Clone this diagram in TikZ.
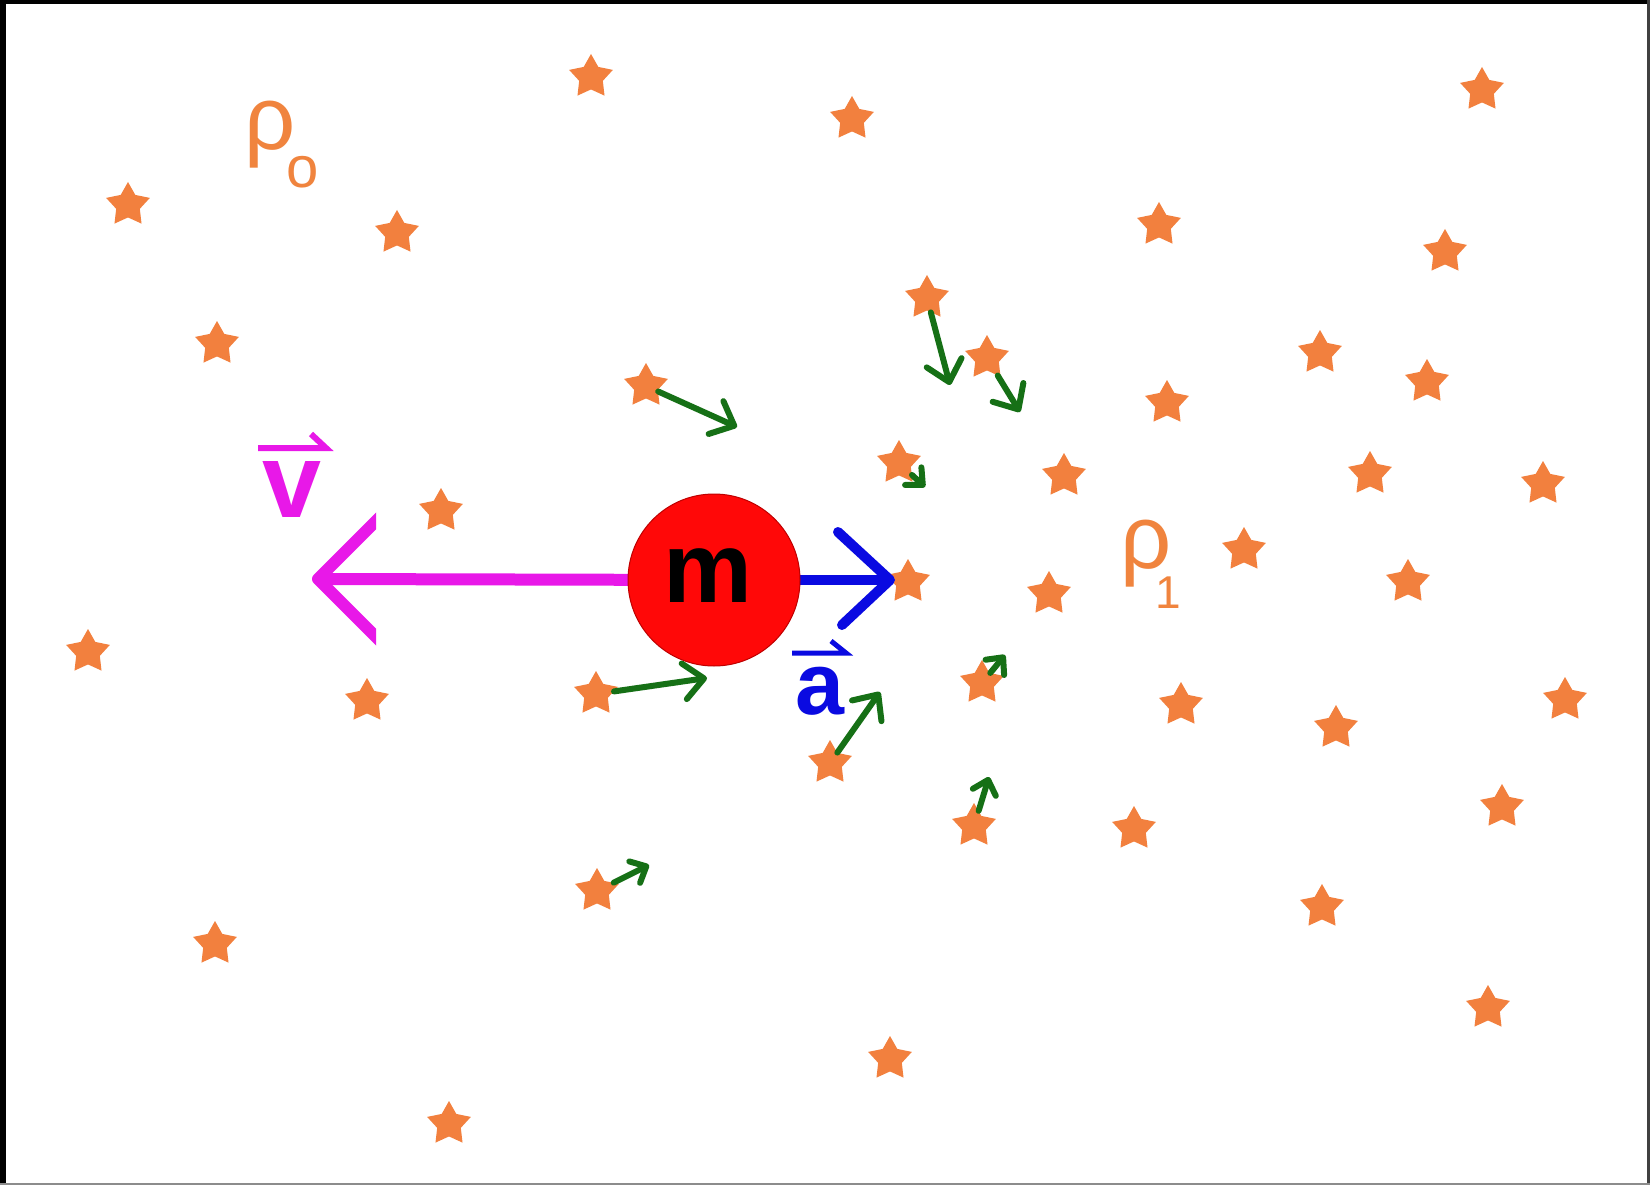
\documentclass[tikz,border=0pt]{standalone}
\usepackage{fontspec}
\setmainfont{Liberation Sans}
\usetikzlibrary{shapes.geometric,arrows.meta}
\definecolor{starorange}{RGB}{242,128,62}
\definecolor{rhoorange}{RGB}{240,132,62}
\definecolor{arrgreen}{RGB}{22,112,22}
\definecolor{vmag}{RGB}{232,24,232}
\definecolor{ablue}{RGB}{10,10,225}
\definecolor{mred}{RGB}{255,8,8}
\begin{document}
\begin{tikzpicture}[x=1pt,y=-1pt,
  starshape/.style={star, star points=5, star point ratio=1.85, minimum size=46pt, inner sep=0pt, fill=starorange, draw=none},
  garrow/.style={draw=arrgreen, line width=6pt, line cap=round, -{Straight Barb[length=20pt,width=36pt,round]}},
  garrowsmall/.style={draw=arrgreen, line width=6pt, line cap=round, -{Straight Barb[length=13pt,width=24pt,round]}},
  bigvec/.style={line width=12pt, line join=round},
  labeltext/.style={inner sep=0pt, anchor=base},
]
% frame
\fill[black] (0,0) rectangle (1650,1185);
\fill[white] (6,4) rectangle (1647,1183);
\fill[black!75] (1647,0) rectangle (1650,1185);
\fill[black!45] (0,1183) rectangle (1650,1185);

% stars
\foreach \x/\y [count=\i] in {
  591/77, 852/119, 1482/90, 128/205, 397/233, 1159/225, 1445/252, 217/344,
  927/298, 987/358, 1320/353, 1427/382, 646/386, 1167/403, 899/463, 1064/476,
  1370/474, 1543/484, 441/511, 1244/550, 908/582, 1049/594, 1408/582, 88/652,
  367/701, 596/694, 982/683, 1181/705, 1336/728, 1565/700, 830/763, 1502/807,
  974/826, 1134/829, 597/891, 1322/907, 215/944, 1488/1008, 890/1059, 449/1124}
  \node[starshape] (s\i) at (\x,\y) {};

% green arrows
\coordinate (t13) at (737,427);
\coordinate (t9) at (950,385);
\coordinate (t10) at (1020,412);
\coordinate (t15) at (925,487);
\coordinate (t26) at (707,678);
\coordinate (t31) at (880,692);
\coordinate (t27) at (1005,655);
\coordinate (t33) at (989,777);
\coordinate (t35) at (649,865);
\draw[garrow] (s13) -- (t13);
\draw[garrow] (s9) -- (t9);
\draw[garrow] (s10) -- (t10);
\draw[garrowsmall] (s15) -- (t15);
\draw[garrow] (s26) -- (t26);
\draw[garrow] (s31) -- (t31);
\draw[garrowsmall] (s27) -- (t27);
\draw[garrowsmall] (s33) -- (t33);
\draw[garrowsmall] (s35) -- (t35);

% mass
\coordinate (mc) at (714,580);
\coordinate (vtip) at (318,579);
\coordinate (atip) at (890,580);
\draw[vmag, line width=12pt] (mc) -- (vtip);
\begin{scope}
  \clip (0,0) rectangle (376,1185);
  \draw[vmag, bigvec] (392,505) -- (vtip) -- (392,653);
\end{scope}
\draw[ablue, line width=10pt] (mc) -- ([xshift=-2pt]atip);
\draw[ablue, line width=10pt, line cap=round, line join=round] (838,532) -- (atip) -- (842,625);
\node[circle, fill=mred, draw=red!75!black, line width=1pt, minimum size=172pt, inner sep=0pt] (mass) at (mc) {};
\node[labeltext, font=\fontsize{100}{100}\selectfont\bfseries, text=black] (mtext) at (708,602) {m};

% labels
\node[labeltext, font=\fontsize{106}{106}\selectfont\bfseries, text=vmag] (vlabel) at (292,517) {v};
\draw[vmag, line width=6pt] (258,448) -- (326,448) -- (311,434);
\node[labeltext, font=\fontsize{88}{88}\selectfont\bfseries, text=ablue] (alabel) at (820,714) {a};
\draw[ablue, line width=5pt] (792,653) -- (846,653) -- (831,641);

\node[inner sep=0pt, anchor=base west, text=rhoorange, font=\fontsize{90}{90}\selectfont] (rho0) at (244,150)
  {ρ\kern-9pt\raisebox{-38pt}{\fontsize{58}{58}\selectfont o}};
\node[inner sep=0pt, anchor=base west, text=rhoorange, font=\fontsize{90}{90}\selectfont] (rho1) at (1120,568)
  {ρ\kern-16pt\raisebox{-40pt}{\fontsize{46}{46}\selectfont 1}};
\end{tikzpicture}
\end{document}
